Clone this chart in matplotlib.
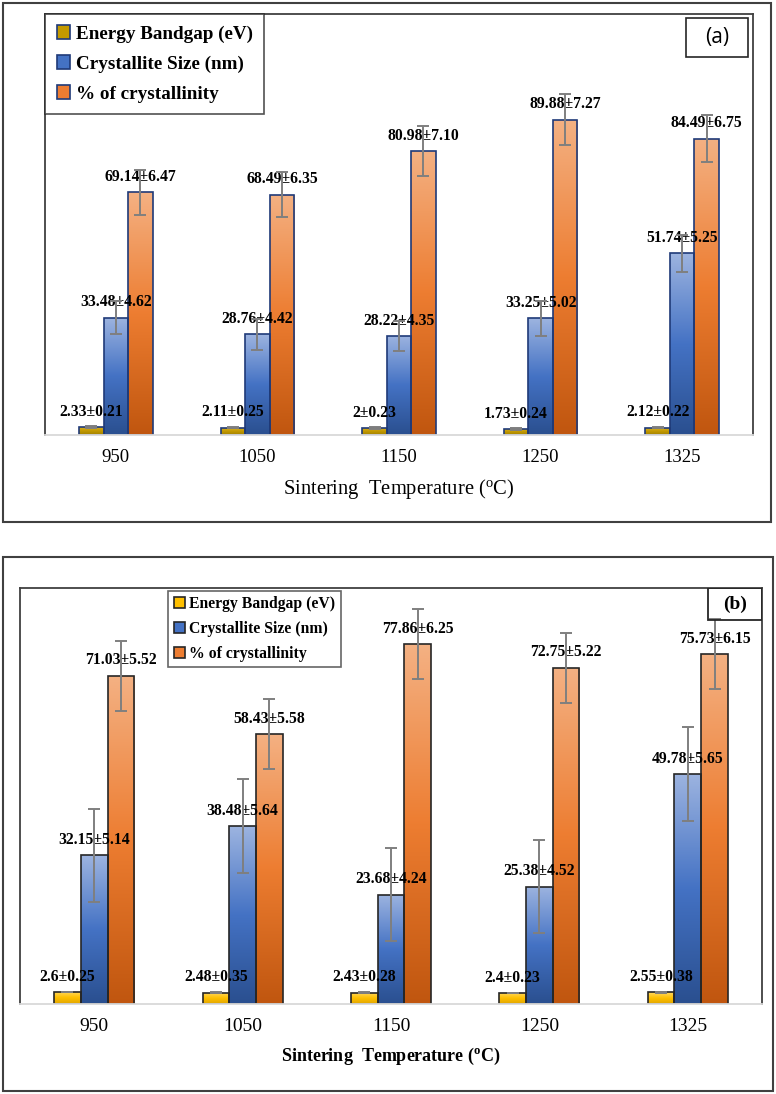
import numpy as np
import matplotlib

matplotlib.use("Agg")
import matplotlib.pyplot as plt
from matplotlib.colors import LinearSegmentedColormap
from matplotlib.patches import Rectangle

plt.rcParams["font.family"] = ["Liberation Serif", "DejaVu Serif"]

temps = ["950", "1050", "1150", "1250", "1325"]
series_names = ["Energy Bandgap (eV)", "Crystallite Size (nm)", "% of crystallinity"]

# panel (a)
gap_a = [2.33, 2.11, 2.0, 1.73, 2.12]
gap_a_err = [0.21, 0.25, 0.23, 0.24, 0.22]
size_a = [33.48, 28.76, 28.22, 33.25, 51.74]
size_a_err = [4.62, 4.42, 4.35, 5.02, 5.25]
cryst_a = [69.14, 68.49, 80.98, 89.88, 84.49]
cryst_a_err = [6.47, 6.35, 7.10, 7.27, 6.75]

# panel (b): labels carry the stated +/-, the drawn bars are wider
gap_b = [2.6, 2.48, 2.43, 2.4, 2.55]
gap_b_lbl = [0.25, 0.35, 0.28, 0.23, 0.38]
gap_b_err = [0.08, 0.08, 0.08, 0.08, 0.08]
size_b = [32.15, 38.48, 23.68, 25.38, 49.78]
size_b_lbl = [5.14, 5.64, 4.24, 4.52, 5.65]
size_b_err = [10.1, 10.1, 10.1, 10.1, 10.1]
cryst_b = [71.03, 58.43, 77.86, 72.75, 75.73]
cryst_b_lbl = [5.52, 5.58, 6.25, 5.22, 6.15]
cryst_b_err = [7.6, 7.6, 7.6, 7.6, 7.6]

W, H = 776, 1094
fig = plt.figure(figsize=(W / 100, H / 100), dpi=100)


def fig_rect(x0, y0, x1, y1):
    # pixel box (from top-left) -> figure fraction
    return [x0 / W, 1 - y1 / H, (x1 - x0) / W, (y1 - y0) / H]


def gradient_bars(ax, bars, stops):
    cmap = LinearSegmentedColormap.from_list("g", stops)
    grad = np.linspace(0, 1, 256).reshape(-1, 1)
    for b in bars:
        x0, w, h = b.get_x(), b.get_width(), b.get_height()
        im = ax.imshow(grad, cmap=cmap, extent=(x0, x0 + w, 0, h), origin="upper",
                       aspect="auto", zorder=2, interpolation="bicubic")
        im.set_clip_path(b)
        b.set_facecolor("none")
        b.set_zorder(2.5)


def draw_panel(ax, data, errs, labels_txt, ymax, colors, edge, width, leg_kw, leg_fs, xlabel_bold,
               tick_fs, xlabel_fs):
    x = np.arange(len(temps))
    handles = []
    for k, (vals, err, stops) in enumerate(zip(data, errs, colors)):
        pos = x + (k - 1) * width
        bars = ax.bar(pos, vals, width, edgecolor=edge, linewidth=1.2, label=series_names[k])
        gradient_bars(ax, bars, stops)
        handles.append(Rectangle((0, 0), 1, 1, facecolor=stops[1], edgecolor=edge, linewidth=1.2))
        ax.errorbar(pos, vals, yerr=err, fmt="none", ecolor="#7f7f7f", elinewidth=1.4,
                    capsize=4, capthick=1.4, zorder=5)
        for p, v, t in zip(pos, vals, labels_txt[k]):
            ax.annotate(t, (p, v), xytext=(0, 11), textcoords="offset points", ha="center",
                        va="center", fontsize=11.3, fontweight="bold", zorder=4)
    ax.set_xlim(-0.5, len(temps) - 0.5)
    ax.set_ylim(0, ymax)
    ax.set_yticks([])
    ax.set_xticks(x)
    ax.set_xticklabels(temps, fontsize=tick_fs)
    ax.tick_params(axis="x", length=0, pad=10)
    for s in ("left", "top", "right"):
        ax.spines[s].set_color("#404040")
        ax.spines[s].set_linewidth(1.3)
    ax.spines["bottom"].set_color("#d9d9d9")
    ax.spines["bottom"].set_linewidth(1.3)
    ax.set_xlabel("Sintering  Temperature ($\\mathregular{^o}$C)", fontsize=xlabel_fs,
                  fontweight="bold" if xlabel_bold else "normal", labelpad=8)
    leg = ax.legend(handles, series_names, fancybox=False, borderaxespad=0, handlelength=0.7,
                    handleheight=0.7, handletextpad=0.3, prop={"weight": "bold", "size": leg_fs},
                    **leg_kw)
    leg.get_frame().set_linewidth(1.2)
    leg.set_zorder(6)


orange = ["#f4b183", "#ed7d31", "#c0560f"]
blue = ["#9db4e0", "#4472c4", "#2a4f8f"]

# panel (a)
fig.add_artist(Rectangle((3 / W, 1 - 522 / H), 768 / W, 519 / H, transform=fig.transFigure,
                         fill=False, edgecolor="#404040", linewidth=1.5))
ax1 = fig.add_axes(fig_rect(45, 14, 753, 435))
lab_a = [[f"{v:g}±{e:.2f}" for v, e in zip(gap_a, gap_a_err)],
         [f"{v:.2f}±{e:.2f}" for v, e in zip(size_a, size_a_err)],
         [f"{v:.2f}±{e:.2f}" for v, e in zip(cryst_a, cryst_a_err)]]
draw_panel(ax1, [gap_a, size_a, cryst_a], [gap_a_err, size_a_err, cryst_a_err], lab_a, 120,
           [["#d8b22e", "#c49a00", "#a08000"], blue, orange], "#1f3a78", 0.173,
           dict(loc="upper left", bbox_to_anchor=(0, 1), edgecolor="#262626", labelspacing=0.65,
                borderpad=0.6), 13.8, False, 13.5, 14.8)
ax1.add_patch(Rectangle((0.905, 0.898), 0.088, 0.092, transform=ax1.transAxes, fill=False,
                        edgecolor="#262626", linewidth=1.2, zorder=6))
ax1.text(0.949, 0.944, "(a)", transform=ax1.transAxes, ha="center", va="center",
         fontsize=15, family="Open Sans", zorder=6)

# panel (b)
fig.add_artist(Rectangle((3 / W, 1 - 1091 / H), 770 / W, 534 / H, transform=fig.transFigure,
                         fill=False, edgecolor="#404040", linewidth=1.5))
ax2 = fig.add_axes(fig_rect(20, 588, 762, 1004))
lab_b = [[f"{v:g}±{e:.2f}" for v, e in zip(gap_b, gap_b_lbl)],
         [f"{v:.2f}±{e:.2f}" for v, e in zip(size_b, size_b_lbl)],
         [f"{v:.2f}±{e:.2f}" for v, e in zip(cryst_b, cryst_b_lbl)]]
draw_panel(ax2, [gap_b, size_b, cryst_b], [gap_b_err, size_b_err, cryst_b_err], lab_b, 90,
           [["#ffd966", "#ffc000", "#e0a500"], blue, orange], "#262626", 0.18,
           dict(loc="upper left", bbox_to_anchor=(0.1995, 0.993), edgecolor="#404040",
                labelspacing=0.55, borderpad=0.35), 11.3, True, 14, 13)
ax2.add_patch(Rectangle((0.927, 0.923), 0.073, 0.077, transform=ax2.transAxes, fill=False,
                        edgecolor="#262626", linewidth=1.3, zorder=6))
ax2.text(0.9635, 0.9615, "(b)", transform=ax2.transAxes, ha="center", va="center",
         fontsize=14, fontweight="bold", zorder=6)

fig.savefig("out.png", dpi=100)
